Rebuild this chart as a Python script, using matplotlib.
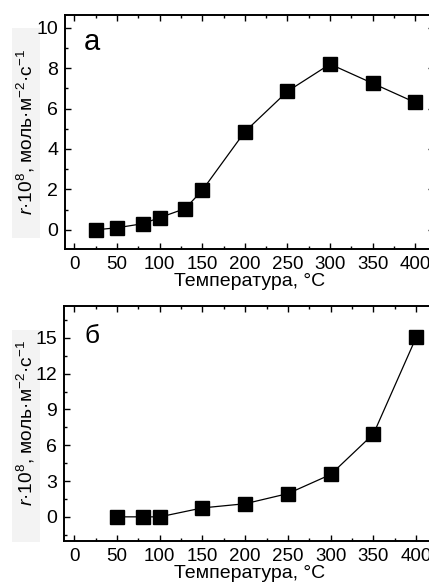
import matplotlib
matplotlib.use("Agg")
import matplotlib.pyplot as plt
from matplotlib.ticker import MultipleLocator
from matplotlib.patches import Rectangle

plt.rcParams['font.family'] = ['Liberation Sans', 'DejaVu Sans']
plt.rcParams['mathtext.fontset'] = 'custom'
plt.rcParams['mathtext.rm'] = 'Liberation Sans'
plt.rcParams['mathtext.it'] = 'Liberation Sans:italic'

temp_a = [25, 50, 80, 100, 130, 150, 200, 250, 300, 350, 400]
rate_a = [0.0, 0.1, 0.3, 0.6, 1.05, 1.95, 4.85, 6.85, 8.2, 7.25, 6.3]
temp_b = [50, 80, 100, 150, 200, 250, 300, 350, 400]
rate_b = [0.0, 0.0, 0.0, 0.75, 1.1, 1.95, 3.55, 6.95, 15.05]

xticks = [0, 50, 100, 150, 200, 250, 300, 350, 400]
xlabel = "Температура, °C"
ylabel = r"$\it{r}$·10$^{8}$, моль·м$^{-2}$·с$^{-1}$"

W, H = 429, 585
fig = plt.figure(figsize=(W/100, H/100), dpi=100)

# light background boxes behind y-labels
fig.patches.append(Rectangle((12/W, 1-238/H), 28/W, 210/H, transform=fig.transFigure,
                             facecolor='#f3f3f3', edgecolor='none', zorder=-5))
fig.patches.append(Rectangle((12/W, 1-542/H), 28/W, 212/H, transform=fig.transFigure,
                             facecolor='#f3f3f3', edgecolor='none', zorder=-5))

ax1 = fig.add_axes([65/W, 1-249/H, (434-65)/W, (249-15)/H])
ax2 = fig.add_axes([64/W, 1-540.7/H, (435-64)/W, (540.7-305.7)/H])
for ax in (ax1, ax2):
    ax.patch.set_alpha(0)

def style(ax, ymaj, ymin_step, ylab_x):
    ax.xaxis.set_major_locator(MultipleLocator(50))
    ax.xaxis.set_minor_locator(MultipleLocator(25))
    ax.yaxis.set_major_locator(MultipleLocator(ymaj))
    ax.yaxis.set_minor_locator(MultipleLocator(ymin_step))
    ax.tick_params(which='both', direction='in', top=True, right=True, width=1.0)
    ax.tick_params(axis='y', which='major', labelsize=14, pad=5)
    ax.tick_params(axis='x', which='major', labelsize=13.5, pad=5)
    ax.tick_params(which='major', length=4.5)
    ax.tick_params(which='minor', length=2.5)
    for s in ax.spines.values():
        s.set_linewidth(1.4)
    ax.set_xlabel(xlabel, fontsize=14, labelpad=0)
    ax.set_ylabel(ylabel, fontsize=13.8)
    ax.yaxis.set_label_coords(ylab_x, 0.5)

ax1.plot(temp_a, rate_a, color='black', lw=0.9, marker='s', ms=9.5, mfc='black', mec='black')
ax1.set_xlim(-11, 422)
ax1.set_ylim(-0.95, 10.63)
style(ax1, 2, 1, -0.076)
ax1.set_xticks(xticks)
ax1.text(0.073, 0.885, "а", transform=ax1.transAxes, fontsize=21, va='center', ha='center')

ax2.plot(temp_b, rate_b, color='black', lw=0.9, marker='s', ms=9.5, mfc='black', mec='black')
ax2.set_xlim(-12, 422)
ax2.set_ylim(-2.0, 17.7)
style(ax2, 3, 1.5, -0.072)
ax2.set_xticks(xticks)
ax2.text(0.076, 0.871, "б", transform=ax2.transAxes, fontsize=19, va='center', ha='center')

fig.savefig("out.png", dpi=100)
